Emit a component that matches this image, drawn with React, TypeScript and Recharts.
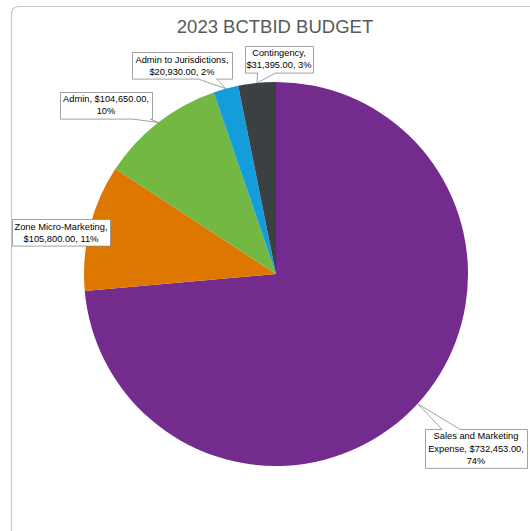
import React from "react";
import { PieChart, Pie, Cell } from "recharts";

const categories = [
  "Sales and Marketing Expense",
  "Zone Micro-Marketing",
  "Admin",
  "Admin to Jurisdictions",
  "Contingency",
];
const budgetValues = [732453, 105800, 104650, 20930, 31395];
const pctLabels = ["74%", "11%", "10%", "2%", "3%"];
const sliceColors = ["#732C8D", "#DE7700", "#72B843", "#149DDB", "#3B4043"];
const chartTitle = "2023 BCTBID BUDGET";

// label box layout: offset of box centre from pie centre, box width, wrap length
const labelDx = [200, -215, -170, -94, 3];
const labelDy = [174.5, -41.5, -169, -208.5, -215];
const labelW = [102, 98, 92, 100, 68];
const wrapChars = [21, 21, 19, 23, 15];

const data = categories.map((name, i) => ({ name, value: budgetValues[i] }));

const FONT = "'Liberation Sans', Arial, sans-serif";
const RAD = Math.PI / 180;

const fmtMoney = (v: number) =>
  "$" + v.toLocaleString("en-US", { minimumFractionDigits: 2, maximumFractionDigits: 2 });

function wrap(text: string, max: number): string[] {
  const words = text.split(" ");
  const lines: string[] = [];
  let cur = "";
  for (const w of words) {
    const cand = cur ? cur + " " + w : w;
    if (cand.length > max && cur) {
      lines.push(cur);
      cur = w;
    } else cur = cand;
  }
  if (cur) lines.push(cur);
  return lines;
}

function calloutPath(l: number, t: number, r: number, b: number, px: number, py: number) {
  const inside = px >= l && px <= r && py >= t && py <= b;
  const cxm = (l + r) / 2;
  const cym = (t + b) / 2;
  const hw = (r - l) / 2;
  const hh = (b - t) / 2;
  const vx = px - cxm;
  const vy = py - cym;
  let side = "";
  if (!inside) {
    side = Math.abs(vx) / hw > Math.abs(vy) / hh ? (vx > 0 ? "right" : "left") : vy > 0 ? "bottom" : "top";
  }
  const half = 9;
  const pts: string[] = [];
  const add = (x: number, y: number) => pts.push(`${x},${y}`);
  add(l, t);
  if (side === "top") {
    const c = Math.min(Math.max(cxm + vx * (hh / Math.abs(vy)), l + half + 2), r - half - 2);
    add(c - half, t); add(px, py); add(c + half, t);
  }
  add(r, t);
  if (side === "right") {
    const c = Math.min(Math.max(cym + vy * (hw / Math.abs(vx)), t + 4), b - 4);
    const h = Math.min(half, hh / 2);
    add(r, c - h); add(px, py); add(r, c + h);
  }
  add(r, b);
  if (side === "bottom") {
    const c = Math.min(Math.max(cxm + vx * (hh / Math.abs(vy)), l + half + 2), r - half - 2);
    add(c + half, b); add(px, py); add(c - half, b);
  }
  add(l, b);
  if (side === "left") {
    const c = Math.min(Math.max(cym + vy * (hw / Math.abs(vx)), t + 4), b - 4);
    const h = Math.min(half, hh / 2);
    add(l, c + h); add(px, py); add(l, c - h);
  }
  return "M" + pts.join(" L") + " Z";
}

const renderLabel = (props: any) => {
  const { cx, cy, midAngle, outerRadius, index, name, value } = props;
  const px = cx + Math.cos(-midAngle * RAD) * outerRadius;
  const py = cy + Math.sin(-midAngle * RAD) * outerRadius;
  const text = `${name}, ${fmtMoney(value)}, ${pctLabels[index]}`;
  const lines = wrap(text, wrapChars[index]);
  const lineH = 12.3;
  const w = labelW[index];
  const h = lines.length * lineH + 2;
  const bx = cx + labelDx[index];
  const by = cy + labelDy[index];
  const l = Math.round(bx - w / 2) + 0.5;
  const t = Math.round(by - h / 2) + 0.5;
  return (
    <g key={`lbl-${index}`}>
      <path
        d={calloutPath(l, t, l + w, t + h, px, py)}
        fill="#ffffff"
        stroke="#8c8c8c"
        strokeWidth={0.8}
      />
      {lines.map((ln, i) => (
        <text
          key={i}
          x={bx}
          y={by + (i - (lines.length - 1) / 2) * lineH}
          dy="0.35em"
          textAnchor="middle"
          fontFamily={FONT}
          fontSize={9.3}
          fill="#000000"
        >
          {ln}
        </text>
      ))}
    </g>
  );
};

export default function App() {
  return (
    <div
      style={{
        position: "absolute",
        left: 0,
        top: 0,
        width: 530,
        height: 531,
        overflow: "hidden",
        background: "#ffffff",
      }}
    >
      <svg
        width={530}
        height={531}
        style={{ position: "absolute", left: 0, top: 0 }}
      >
        <path
          d="M11.5,560 L11.5,14.5 Q11.5,6.5 19.5,6.5 L560,6.5"
          fill="none"
          stroke="#c8c8c8"
          strokeWidth={1.2}
        />
        <text
          x={275}
          y={33}
          textAnchor="middle"
          fontFamily={FONT}
          fontSize={18.5}
          fill="#595959"
        >
          {chartTitle}
        </text>
      </svg>
      <div style={{ position: "absolute", left: 0, top: 0 }}>
        <PieChart width={530} height={531} margin={{ top: 0, right: 0, bottom: 0, left: 0 }}>
          <Pie
            data={data}
            dataKey="value"
            nameKey="name"
            cx={276}
            cy={274}
            outerRadius={192}
            startAngle={90}
            endAngle={-270}
            stroke="none"
            isAnimationActive={false}
            labelLine={false}
            label={renderLabel}
          >
            {data.map((d, i) => (
              <Cell key={d.name} fill={sliceColors[i]} />
            ))}
          </Pie>
        </PieChart>
      </div>
    </div>
  );
}
